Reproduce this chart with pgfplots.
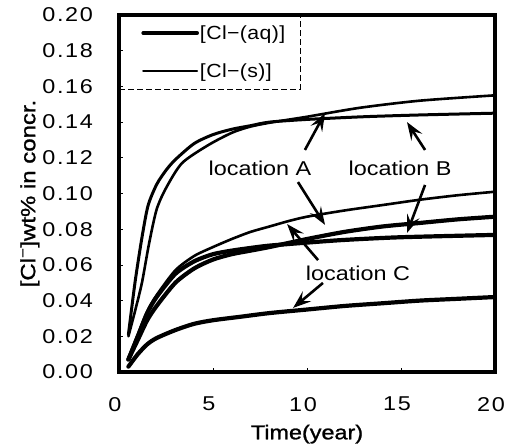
\documentclass[border=0pt]{standalone}
\usepackage{fontspec}
\setmainfont{Liberation Sans}[FakeStretch=1.17]
\newfontfamily\legfont{Liberation Sans}[FakeStretch=1.12, LetterSpace=2]
\newfontfamily\tickfont{Liberation Sans}[FakeStretch=1.17, LetterSpace=8]
\newfontfamily\labfont{Liberation Sans}[FakeStretch=1.17, FakeBold=1.2]
\usepackage{pgfplots}
\pgfplotsset{compat=1.18}
\usetikzlibrary{arrows.meta}

\newcommand{\bigfont}{\fontsize{20}{24}\selectfont}
\tikzset{callout/.style={-{Stealth[length=18pt,width=13pt,inset=7pt]}, line width=2.6pt}}

\begin{document}
\begin{tikzpicture}
\useasboundingbox (-119pt,-73pt) rectangle (388pt,372pt);
\begin{axis}[
  at={(0,0)}, anchor=south west,
  scale only axis,
  width=376pt, height=357pt,
  xmin=0, xmax=20, ymin=0, ymax=0.2,
  xtick={0,5,10,15,20},
  ytick={0,0.02,0.04,0.06,0.08,0.10,0.12,0.14,0.16,0.18,0.20},
  tick pos=left, tick align=inside,
  major tick length=4pt,
  tick style={line width=0.7pt, black},
  axis line style={line width=3.8pt},
  ticklabel style={font=\tickfont\fontsize{20}{24}\selectfont},
  /pgf/number format/assume math mode=true,
  yticklabel style={/pgf/number format/.cd, fixed, fixed zerofill, precision=2, /tikz/.cd,
    inner sep=0pt, xshift=-26pt},
  xticklabel style={inner sep=0pt, yshift=-25pt, xshift=-4pt},
  xlabel={Time(year)},
  xlabel style={at={(axis description cs:0.5,-0.174)}, anchor=center,
    font=\labfont\fontsize{20}{24}\selectfont},
  ylabel={[Cl\textsuperscript{−}]wt\% in concr.},
  ylabel style={at={(axis description cs:-0.237,0.5)}, anchor=center,
    font=\labfont\fontsize{20.5}{24}\selectfont},
  legend style={at={(0,1)}, anchor=north west, fill=none, draw=black,
    line width=0.8pt, dash pattern=on 6pt off 3pt,
    font=\legfont\fontsize{19}{22}\selectfont,
    inner xsep=14pt, inner ysep=7pt, row sep=17pt,
    nodes={inner xsep=1pt, inner ysep=3pt}},
  legend cell align=left,
  legend image code/.code={\path (0pt,0pt); \draw[#1, solid] (8pt,0pt) -- (62pt,0pt);},
  every axis plot/.append style={black, smooth, tension=0.45, line cap=round},
]
\addlegendimage{line width=3.6pt}
\addlegendentry{[Cl−(aq)]}
\addlegendimage{line width=1.9pt}
\addlegendentry{[Cl−(s)]}

% location B, plateau ~0.145
\addplot[line width=3.0pt, forget plot] coordinates {
  (0.5,0.021) (0.85,0.050) (1.2,0.074) (1.54,0.093) (2.0,0.105) (2.5,0.113)
  (3.0,0.119) (4.0,0.128) (5.0,0.133) (6.0,0.136) (7.0,0.138) (8.0,0.140)
  (10,0.1415) (13,0.143) (16,0.144) (20,0.145)};
% location A, rises to ~0.155
\addplot[line width=2.6pt, forget plot] coordinates {
  (0.5,0.020) (0.85,0.034) (1.22,0.050) (1.6,0.072) (2.0,0.091) (2.5,0.103)
  (3.35,0.117) (4.73,0.127) (6.0,0.134) (7.0,0.1375) (8.2,0.140) (10,0.143)
  (12.8,0.148) (16,0.152) (20,0.155)};
% middle group
\addplot[line width=2.6pt, forget plot] coordinates {
  (0.5,0.008) (1,0.021) (1.5,0.034) (2,0.043) (3,0.057) (4,0.065) (5,0.070)
  (6,0.0745) (7,0.0785) (8,0.0815) (9,0.0845) (10,0.087) (12,0.0905)
  (14,0.0935) (16,0.0965) (18,0.099) (20,0.101)};
\addplot[line width=4.2pt, forget plot] coordinates {
  (0.5,0.007) (1,0.018) (1.5,0.029) (2,0.037) (3,0.050) (4,0.058) (5,0.063)
  (6,0.066) (7,0.068) (8,0.070) (10,0.0745) (12,0.0785) (14,0.0815)
  (16,0.0835) (18,0.0855) (20,0.087)};
\addplot[line width=4.2pt, forget plot] coordinates {
  (0.5,0.007) (1,0.020) (1.5,0.033) (2,0.042) (3,0.055) (4,0.062) (5,0.066)
  (6,0.068) (7,0.0695) (8,0.0708) (10,0.0725) (12,0.074) (15,0.0755) (20,0.0768)};
% location C, lowest
\addplot[line width=4.2pt, forget plot] coordinates {
  (0.5,0.003) (1,0.010) (1.5,0.0155) (2,0.019) (3,0.0235) (4,0.027) (5,0.029)
  (6.5,0.031) (8,0.033) (10,0.035) (12,0.037) (14,0.0385) (16,0.040)
  (18,0.041) (20,0.042)};

\node[font=\bigfont] at (axis cs:7.5,0.1143) {location A};
\node[font=\bigfont] at (axis cs:14.95,0.1143) {location B};
\node[font=\bigfont] at (axis cs:12.71,0.0555) {location C};

\draw[callout] (axis cs:9.89,0.1244) -- (axis cs:10.96,0.1451);
\draw[callout] (axis cs:9.52,0.1064) -- (axis cs:10.96,0.0824);
\draw[callout] (axis cs:16.28,0.1244) -- (axis cs:15.32,0.1400);
\draw[callout] (axis cs:16.28,0.1048) -- (axis cs:15.32,0.0779);
\draw[callout] (axis cs:10.59,0.0627) -- (axis cs:8.94,0.0829);
\draw[callout] (axis cs:10.85,0.0499) -- (axis cs:9.26,0.0359);
\end{axis}
\end{tikzpicture}
\end{document}
